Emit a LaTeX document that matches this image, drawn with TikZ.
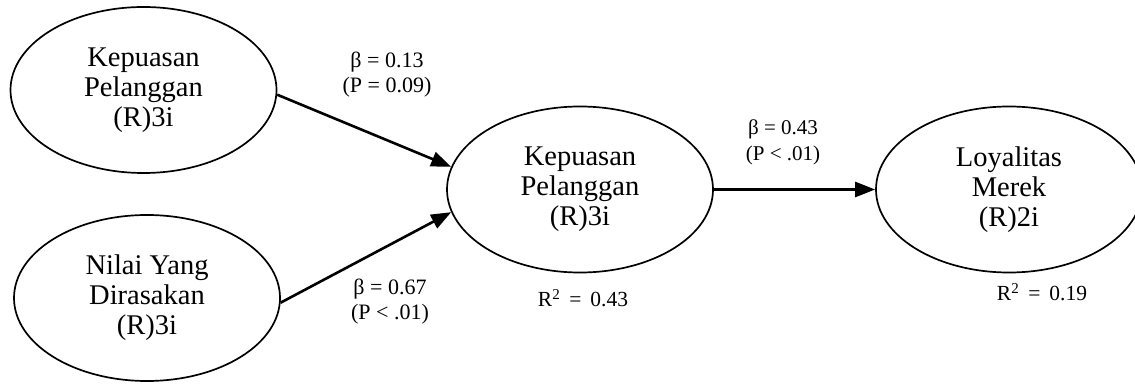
\documentclass[tikz,border=0pt]{standalone}
\usepackage{fontspec}
\setmainfont{Liberation Serif}
\usetikzlibrary{arrows.meta,shapes.geometric}
\begin{document}
\begin{tikzpicture}[x=1pt,y=-1pt,
  latent/.style={draw,ellipse,line width=1.7pt,inner sep=0pt,minimum width=266pt,minimum height=166pt,align=center,font=\fontsize{28.5}{30}\selectfont},
  path/.style={line width=2.6pt,-{Triangle[length=20pt,width=15pt]}},
  coef/.style={align=center,font=\fontsize{22}{25}\selectfont,inner sep=0pt},
  coefm/.style={align=center,font=\fontsize{21}{26}\selectfont,inner sep=0pt},
  rsq/.style={font=\fontsize{21.5}{24}\selectfont,inner sep=0pt}]
\useasboundingbox (0,0) rectangle (1135,390);
\begin{scope}
\clip (0,0) rectangle (1135,390);
\node[latent] (kp1) at (143.5,90) {Kepuasan\\Pelanggan\\(R)3i};
\node[latent] (nyd) at (147,298) {Nilai Yang\\Dirasakan\\(R)3i};
\node[latent] (kp2) at (580,189.5) {Kepuasan\\Pelanggan\\(R)3i};
\node[latent] (lm) at (1009,189.5) {Loyalitas\\Merek\\(R)2i};
\end{scope}
\draw[path] (kp1.-2) -- (kp2.170);
\draw[path] (nyd.-2) -- (kp2.190);
\draw[path] (kp2.east) -- (lm.west);
\node[coef] (c1) at (387,75) {β = 0.13\\(P = 0.09)};
\node[coef] (c2) at (390,302) {β = 0.67\\(P < .01)};
\node[coefm] (c3) at (783,142) {β = 0.43\\(P < .01)};
\node[rsq] (r1) at (583,298) {R\textsuperscript{2}\ \,=\ \,0.43};
\node[rsq] (r2) at (1042,292) {R\textsuperscript{2}\ \,=\ \,0.19};
\end{tikzpicture}
\end{document}
